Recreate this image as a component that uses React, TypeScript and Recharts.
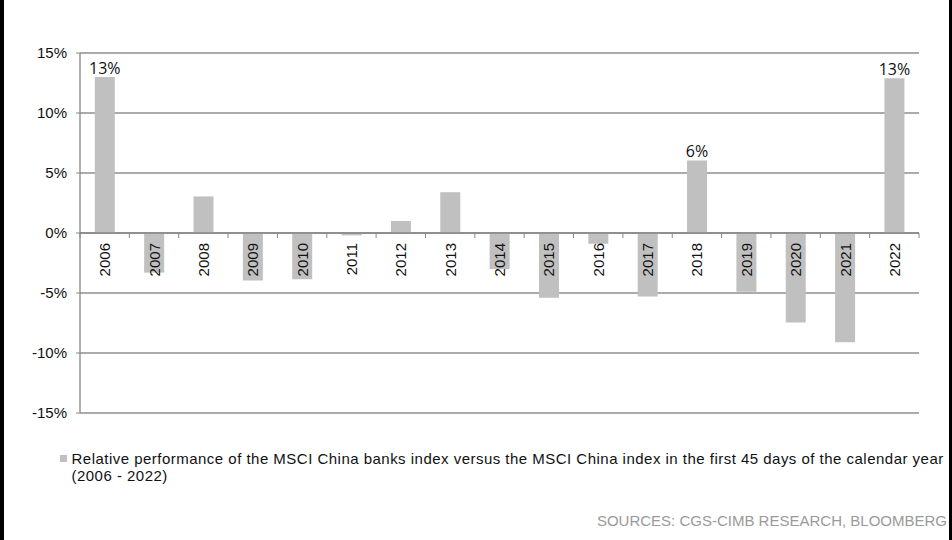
import React from 'react';
import { BarChart, Bar, XAxis, YAxis, CartesianGrid, ReferenceLine, LabelList } from 'recharts';

const years = ['2006', '2007', '2008', '2009', '2010', '2011', '2012', '2013', '2014', '2015', '2016', '2017', '2018', '2019', '2020', '2021', '2022'];
const relPerf = [13.0, -3.3, 3.05, -3.95, -3.85, -0.2, 1.0, 3.4, -3.0, -5.4, -0.9, -5.3, 6.05, -4.9, -7.45, -9.1, 12.9];
const valueLabels = ['13%', '', '', '', '', '', '', '', '', '', '', '', '6%', '', '', '', '13%'];
const yTicks = [-15, -10, -5, 0, 5, 10, 15];
const legendLine1 = 'Relative performance of the MSCI China banks index versus the MSCI China index in the first 45 days of the calendar year';
const legendLine2 = '(2006 - 2022)';
const sourceText = 'SOURCES: CGS-CIMB RESEARCH, BLOOMBERG';

const data = years.map((year, i) => ({ year, value: relPerf[i], label: valueLabels[i] }));

const AXIS_GRAY = '#868686';
const GRID_GRAY = '#8f8f8f';
const BAR_GRAY = '#c0c0c0';
const FONT = '"Liberation Sans", Arial, sans-serif';

const ZeroAxis = (props: any) => {
  const { x1, x2, y1 } = props;
  const n = years.length;
  const step = (x2 - x1) / n;
  const ticks = [];
  for (let k = 0; k <= n; k++) {
    const tx = x1 + k * step;
    ticks.push(<line key={k} x1={tx} x2={tx} y1={y1} y2={y1 + 5} stroke={AXIS_GRAY} strokeWidth={1} />);
  }
  return (
    <g>
      <line x1={x1} x2={x2} y1={y1} y2={y1} stroke={AXIS_GRAY} strokeWidth={1.3} />
      {ticks}
    </g>
  );
};

const YearLabel = (props: any) => {
  const vb = props.viewBox || props;
  const x = Number(vb.x);
  const y = Number(vb.y);
  const width = Number(vb.width);
  const height = Number(vb.height);
  const idx = props.index;
  const v = typeof idx === 'number' ? relPerf[idx] : 0;
  const zero = v < 0 && height > 0 ? y : y + height;
  const cx = x + width / 2 + 5.4;
  const ty = zero + 10;
  return (
    <text
      x={cx}
      y={ty}
      transform={`rotate(-90 ${cx} ${ty})`}
      textAnchor="end"
      fontFamily={FONT}
      fontSize={15}
      fill="#111"
    >
      {props.value}
    </text>
  );
};

const legendTextStyle: React.CSSProperties = {
  position: 'absolute',
  left: 71.5,
  fontSize: 15,
  lineHeight: '15px',
  color: '#111',
  whiteSpace: 'nowrap',
  letterSpacing: '0.48px',
};

export default function App() {
  return (
    <div
      style={{
        position: 'absolute',
        left: 0,
        top: 0,
        width: 952,
        height: 540,
        background: '#fff',
        overflow: 'hidden',
        fontFamily: FONT,
      }}
    >
      <div style={{ position: 'absolute', left: 0, top: 0 }}>
        <BarChart
          width={952}
          height={540}
          data={data}
          margin={{ top: 53, right: 33, bottom: 127, left: 0 }}
          barCategoryGap="30%"
        >
          <CartesianGrid vertical={false} stroke={GRID_GRAY} strokeWidth={1.3} />
          <XAxis dataKey="year" hide />
          <YAxis
            width={80}
            domain={[-15, 15]}
            ticks={yTicks}
            interval={0}
            tickFormatter={(v: number) => `${v}%`}
            axisLine={{ stroke: AXIS_GRAY, strokeWidth: 1.3 }}
            tickLine={{ stroke: AXIS_GRAY }}
            tickSize={4}
            tickMargin={9}
            tick={{ fontFamily: FONT, fontSize: 15, fill: '#111' }}
          />
          <Bar dataKey="value" fill={BAR_GRAY} isAnimationActive={false}>
            <LabelList dataKey="year" content={YearLabel} />
            <LabelList
              dataKey="label"
              position="top"
              offset={3}
              style={{ fontFamily: '"Open Sans", sans-serif', fontSize: 16, fill: '#111' }}
            />
          </Bar>
          <ReferenceLine y={0} shape={ZeroAxis} ifOverflow="extendDomain" />
        </BarChart>
      </div>
      <div style={{ position: 'absolute', left: 0, top: 0, width: 4, height: 540, background: '#000' }} />
      <div style={{ position: 'absolute', left: 949, top: 0, width: 3, height: 540, background: '#000' }} />
      <div style={{ position: 'absolute', left: 60, top: 455, width: 7, height: 7, background: BAR_GRAY }} />
      <div style={{ ...legendTextStyle, top: 451 }}>{legendLine1}</div>
      <div style={{ ...legendTextStyle, top: 468 }}>{legendLine2}</div>
      <div
        style={{
          position: 'absolute',
          right: 5,
          top: 513,
          fontSize: 15,
          lineHeight: '15px',
          color: '#9a9a9a',
          whiteSpace: 'nowrap',
        }}
      >
        {sourceText}
      </div>
    </div>
  );
}
